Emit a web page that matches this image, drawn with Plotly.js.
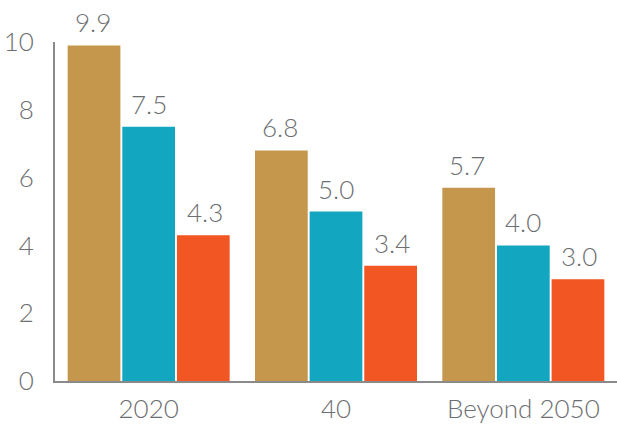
<!DOCTYPE html>
<html>
<head>
<meta charset="utf-8">
<script src="https://cdn.plot.ly/plotly-3.0.1.min.js"></script>
<style>html,body{margin:0;padding:0;background:#fff}#chart{width:617px;height:433px}</style>
</head>
<body>
<div id="chart"></div>
<script>
const categories = ['2020', '40', 'Beyond 2050'];
const seriesA = [9.9, 6.8, 5.7];
const seriesB = [7.5, 5.0, 4.0];
const seriesC = [4.3, 3.4, 3.0];
const colors = ['#C4974C', '#13A6C0', '#F15623'];
const yTicks = [0, 2, 4, 6, 8, 10];

const all = [seriesA, seriesB, seriesC];
const traces = all.map((vals, i) => ({
  type: 'bar', x: categories, y: vals,
  marker: {color: colors[i], line: {width: 0}},
  hoverinfo: 'skip'
}));

const textFont = {family: 'Lato, "Open Sans", sans-serif', size: 26, color: '#6d6e71', weight: 300};
const annotations = [];
all.forEach((vals, i) => {
  vals.forEach((v, j) => {
    annotations.push({
      x: j, y: v, xref: 'x', yref: 'y',
      text: v.toFixed(1), showarrow: false,
      yanchor: 'bottom', xanchor: 'center',
      xshift: (i - 1) * 56, yshift: 5,
      font: textFont
    });
  });
});

const layout = {
  width: 617, height: 433,
  margin: {l: 55, r: 0, t: 42, b: 52},
  paper_bgcolor: '#ffffff', plot_bgcolor: 'rgba(0,0,0,0)',
  barmode: 'group', bargap: 0.125, bargroupgap: 0.035,
  showlegend: false,
  font: textFont,
  xaxis: {
    type: 'category', range: [-0.5, 2.5],
    showline: true, linecolor: '#8a8a8a', linewidth: 2,
    ticks: '', showgrid: false, zeroline: false,
    tickfont: textFont, ticklabelstandoff: 4
  },
  yaxis: {
    range: [0, 10], tickvals: yTicks, ticktext: yTicks.map(String),
    showline: true, linecolor: '#8a8a8a', linewidth: 2,
    ticks: '', showgrid: false, zeroline: false,
    tickfont: textFont, ticklabelstandoff: 14
  },
  annotations: annotations
};

Plotly.newPlot('chart', traces, layout, {displayModeBar: false, staticPlot: true});
</script>
</body>
</html>
